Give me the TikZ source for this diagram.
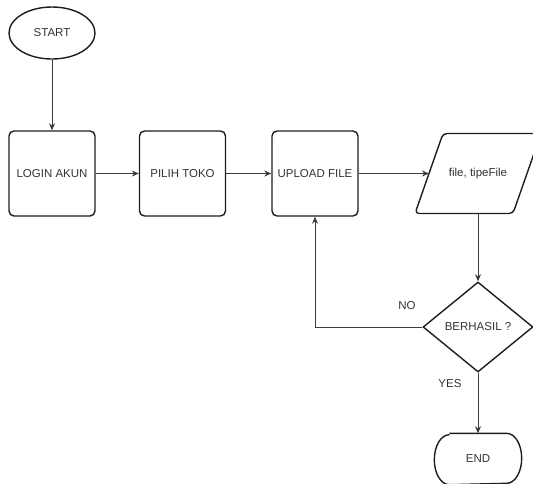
\documentclass[tikz,border=0pt]{standalone}
\usepackage{fontspec}
\setmainfont{Liberation Sans}
\usetikzlibrary{shapes.geometric,arrows.meta}

\definecolor{edgecol}{HTML}{1E1E1E}
\definecolor{linecol}{HTML}{3C3C3C}
\definecolor{textcol}{HTML}{333333}

\tikzset{
  base/.style={draw=edgecol, line width=1.4pt, text=textcol,
               font=\fontsize{11.5}{13}\selectfont, inner sep=2pt},
  outline/.style={draw=edgecol, line width=1.4pt},
  procbox/.style={base, rectangle, rounded corners=5pt,
                  minimum width=86pt, minimum height=85pt},
  terminal/.style={base, ellipse, minimum width=86pt, minimum height=52pt},
  textonly/.style={base, draw=none, rectangle},
  decision/.style={base, diamond, minimum width=110pt, minimum height=90pt},
  flow/.style={draw=linecol, line width=1pt,
               -{Stealth[length=7pt,width=6pt]}},
  lbl/.style={text=textcol, font=\fontsize{11.5}{13}\selectfont, inner sep=0pt}
}

\begin{document}
\begin{tikzpicture}[x=1pt,y=-1pt]
  \useasboundingbox (0,0) rectangle (533,483);
  \clip (0,0) rectangle (533,483);

  % terminals and process steps
  \node[terminal] (start)  at (52,33)    {START};
  \node[procbox]  (login)  at (52,173.5) {LOGIN AKUN};
  \node[procbox]  (pilih)  at (182.5,173.5) {PILIH TOKO};
  \node[procbox]  (upload) at (315,173.5) {UPLOAD FILE};
  \node[decision] (dec)    at (478,327)  {BERHASIL ?};

  % data (input) parallelogram
  \node[textonly, minimum width=98pt, minimum height=80pt]
       (data) at (478,173.5) {file, tipeFile};
  \draw[outline, rounded corners=4pt]
       (443,133.5) -- (541,133.5) -- (513,213.5) -- (415,213.5) -- cycle;
  \coordinate (datain) at (429,173.5);

  % end terminator with elliptical side arcs
  \node[textonly, minimum width=86pt, minimum height=50pt]
       (end) at (478,459) {END};
  \draw[outline]
       ([xshift=15pt]end.north west) -- ([xshift=-15pt]end.north east)
       arc[start angle=90, end angle=-90, x radius=15pt, y radius=25pt]
       -- ([xshift=15pt]end.south west)
       arc[start angle=270, end angle=90, x radius=15pt, y radius=25pt];

  % connectors
  \draw[flow] (start) -- (login);
  \draw[flow] (login) -- (pilih);
  \draw[flow] (pilih) -- (upload);
  \draw[flow] (upload) -- (datain);
  \draw[flow] (data.south) -- (dec.north);
  \draw[flow] (dec.west) -| (upload.south);
  \draw[flow] (dec.south) -- (end.north);

  % branch labels
  \node[lbl] (nolbl)  at (407,305.5) {NO};
  \node[lbl] (yeslbl) at (450,384)   {YES};
\end{tikzpicture}
\end{document}
